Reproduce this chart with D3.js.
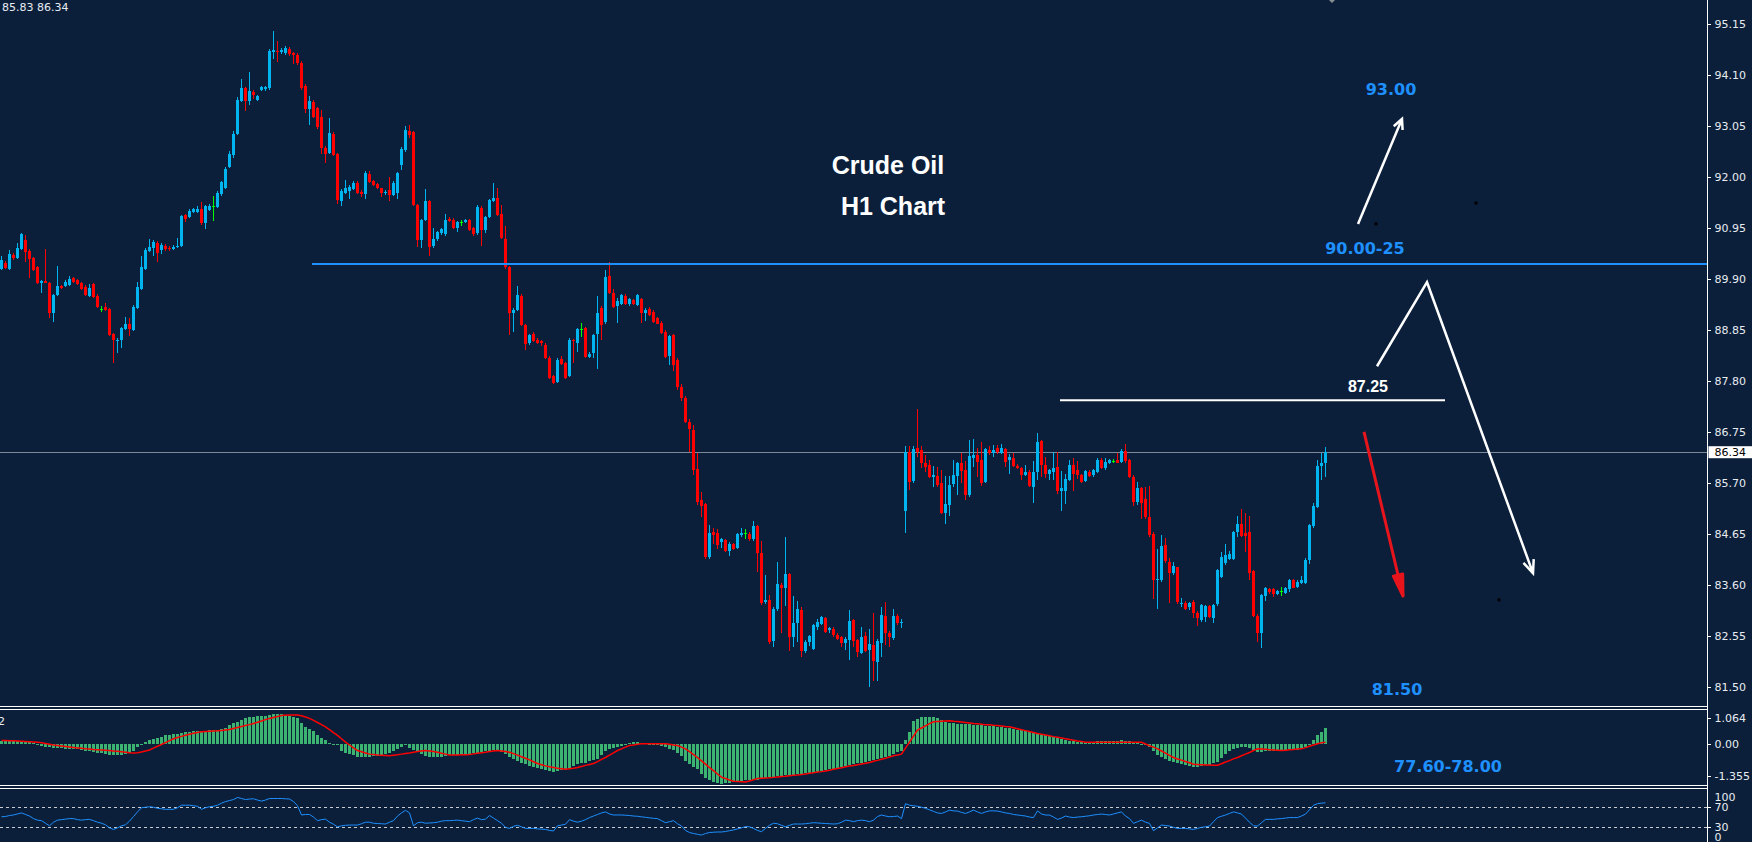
<!DOCTYPE html>
<html><head><meta charset="utf-8">
<script src="https://cdn.jsdelivr.net/npm/d3@7"></script>
<style>
html,body{margin:0;padding:0;background:#0b1f3b;overflow:hidden}
svg{display:block}
</style></head><body>
<svg id="chart" width="1752" height="842"></svg>
<script>
// ---------------- DATA (H1 candles) ----------------
const opens=[90.12,90.24,90.12,90.40,90.34,90.52,90.71,90.49,90.33,90.16,
89.83,89.86,89.83,89.21,89.58,89.76,89.76,89.78,89.92,89.88,
89.82,89.75,89.56,89.80,89.56,89.29,89.32,89.28,88.77,88.63,
88.65,88.87,88.99,88.86,89.30,89.71,90.12,90.49,90.54,90.64,
90.50,90.59,90.55,90.52,90.56,90.59,91.22,91.19,91.29,91.28,
91.34,91.05,91.33,91.40,91.38,91.65,91.77,92.22,92.46,92.89,
93.58,93.83,93.58,93.76,93.60,93.80,93.81,93.83,94.59,94.60,
94.57,94.55,94.65,94.55,94.52,94.36,93.89,93.40,93.56,93.42,
93.25,92.61,92.51,92.90,92.48,91.52,91.68,91.72,91.75,91.89,
91.70,91.66,92.06,91.92,91.86,91.77,91.67,91.74,91.64,91.68,
92.25,92.56,92.95,92.93,91.43,90.70,91.13,91.51,90.59,90.72,
90.85,90.83,91.15,91.12,90.95,91.07,91.07,91.12,90.95,90.85,
91.36,90.91,91.18,91.52,91.57,91.24,90.74,90.16,89.20,89.27,
89.56,88.96,88.58,88.77,88.66,88.63,88.55,88.29,87.91,87.79,
88.25,88.17,87.91,88.65,88.58,88.87,88.89,88.31,88.38,88.77,
89.30,89.03,89.97,89.61,89.35,89.40,89.56,89.40,89.47,89.37,
89.49,89.20,89.29,89.23,89.10,89.01,88.82,88.32,88.75,88.24,
87.69,87.45,86.97,86.80,85.99,85.36,85.27,84.19,84.70,84.67,
84.50,84.53,84.31,84.45,84.37,84.63,84.67,84.65,84.55,84.82,
84.26,83.25,83.30,82.46,83.11,83.61,83.55,83.83,82.54,82.83,
83.10,82.25,82.44,82.28,82.75,82.80,82.92,82.67,82.71,82.58,
82.53,82.42,82.47,82.88,82.47,82.21,82.55,82.27,82.37,82.03,
82.42,82.97,82.62,82.51,82.97,82.82,85.12,86.35,85.75,86.42,
86.38,86.12,86.08,85.84,85.85,85.70,85.09,85.25,85.68,85.85,
86.12,85.97,85.46,86.23,86.28,86.18,85.73,86.38,86.33,86.43,
86.33,86.40,86.17,86.23,86.06,86.01,85.87,85.94,85.63,85.94,
86.57,86.08,85.89,85.94,86.03,85.55,85.55,85.77,86.08,85.97,
85.87,85.75,85.94,85.87,85.94,86.19,86.01,86.11,86.16,86.18,
86.14,86.36,86.18,85.84,85.32,85.60,85.38,85.01,84.66,83.71,
83.71,84.43,84.09,83.85,83.97,83.21,83.24,83.15,83.26,83.04,
82.88,82.95,83.17,82.92,83.21,83.78,84.05,84.15,84.15,84.70,
84.86,84.67,84.69,83.90,82.97,82.61,83.37,83.52,83.52,83.42,
83.49,83.45,83.52,83.71,83.56,83.64,83.64,84.12,84.82,85.22,
86.05,86.11];
const highs=[90.37,90.27,90.50,90.44,90.64,90.85,90.81,90.52,90.35,90.18,
89.88,90.52,89.85,89.60,90.17,89.79,89.88,89.97,89.95,89.90,
89.85,89.78,89.81,89.83,89.59,89.35,89.42,89.31,88.80,88.70,
88.92,89.13,89.10,89.37,89.85,90.37,90.55,90.72,90.71,90.68,
90.65,90.62,90.58,90.60,90.76,91.23,91.25,91.35,91.37,91.40,
91.50,91.43,91.45,91.61,91.72,91.93,92.22,92.55,92.95,93.65,
94.02,93.86,94.16,93.80,93.70,93.88,93.88,94.65,95.01,94.81,
94.66,94.70,94.68,94.58,94.55,94.40,93.92,93.67,93.59,93.45,
93.39,92.64,93.23,92.93,92.50,91.75,91.94,91.84,91.92,91.92,
91.73,92.12,92.12,91.95,91.88,91.79,91.73,92.01,91.92,92.10,
92.62,93.06,93.08,92.96,91.45,91.15,91.75,91.54,90.95,90.90,
90.96,91.24,91.18,91.17,91.10,91.13,91.15,91.15,90.98,91.42,
91.40,91.21,91.56,91.89,91.77,91.43,91.00,90.18,89.30,89.77,
89.60,88.99,88.78,88.82,88.69,88.66,88.58,88.32,87.94,88.27,
88.32,88.20,88.70,88.68,88.90,89.01,88.92,88.40,88.77,89.56,
89.35,90.10,90.26,89.71,89.51,89.60,89.60,89.51,89.50,89.60,
89.52,89.30,89.32,89.26,89.13,89.04,88.85,88.76,88.78,88.27,
87.75,87.50,87.02,86.90,86.32,85.53,85.30,84.84,84.79,84.75,
84.58,84.56,84.49,84.48,84.68,84.77,84.75,84.70,84.92,84.85,
84.51,83.81,83.40,83.15,84.07,83.64,84.59,83.86,83.39,83.28,
83.15,82.47,82.58,82.81,82.90,82.97,82.95,82.75,82.74,82.61,
82.56,82.53,83.10,82.91,82.50,82.75,82.64,82.71,83.04,82.49,
83.16,83.26,82.65,83.12,83.00,82.90,86.47,86.47,86.47,87.23,
86.47,86.28,86.18,86.05,86.04,85.97,85.85,85.85,86.19,86.13,
86.33,86.16,86.59,86.61,86.42,86.56,86.42,86.47,86.49,86.48,
86.51,86.43,86.30,86.32,86.09,86.04,86.08,85.97,86.16,86.73,
86.60,86.25,86.00,86.35,86.35,85.96,85.89,86.19,86.23,86.16,
85.90,85.98,85.97,86.00,86.23,86.22,86.23,86.21,86.21,86.32,
86.40,86.50,86.21,85.87,85.73,85.63,85.63,85.64,84.69,84.34,
84.63,84.57,84.17,84.07,83.98,83.33,83.27,83.26,83.29,83.07,
83.22,83.20,83.20,83.22,83.94,84.29,84.45,84.31,84.72,85.03,
85.18,85.08,85.03,83.91,83.00,83.43,83.56,83.54,83.55,83.50,
83.57,83.57,83.73,83.74,83.70,83.79,84.17,84.87,85.29,86.18,
86.32,86.44];
const lows=[90.09,90.11,90.10,90.30,90.32,90.50,90.26,89.92,90.08,89.80,
89.61,89.82,89.10,89.03,89.56,89.70,89.74,89.76,89.83,89.78,
89.69,89.56,89.53,89.52,89.30,89.23,89.25,88.73,88.18,88.39,
88.48,88.85,88.73,88.84,89.28,89.69,90.10,90.46,90.37,90.26,
90.43,90.48,90.49,90.50,90.54,90.56,91.07,91.16,91.27,91.26,
91.02,90.94,91.30,91.10,91.36,91.62,91.75,92.20,92.40,92.87,
93.55,93.36,93.49,93.62,93.57,93.77,93.78,93.80,94.43,94.38,
94.54,94.52,94.50,94.33,94.32,93.80,93.33,93.08,93.22,93.00,
92.49,92.29,92.48,92.43,91.45,91.40,91.66,91.55,91.73,91.65,
91.60,91.55,91.89,91.83,91.75,91.60,91.64,91.52,91.61,91.55,
92.15,92.53,92.80,91.40,90.57,90.54,91.10,90.37,90.55,90.69,
90.82,90.80,91.07,90.93,90.88,91.00,91.05,90.89,90.80,90.82,
90.59,90.85,91.16,91.50,91.20,90.74,90.12,88.75,88.82,89.25,
88.93,88.44,88.55,88.60,88.56,88.52,88.26,87.84,87.75,87.76,
88.13,87.84,87.88,88.18,88.41,88.72,88.28,88.28,88.27,88.05,
88.65,88.98,89.60,89.30,89.01,89.38,89.38,89.35,89.37,89.35,
89.01,89.05,89.14,89.01,88.97,88.78,88.29,88.13,88.02,87.62,
87.40,86.95,86.35,85.87,85.25,85.01,84.15,84.15,84.45,84.34,
84.37,84.29,84.21,84.33,84.35,84.60,84.55,84.52,84.52,83.88,
83.20,83.22,82.40,82.34,83.08,82.61,83.17,82.25,82.34,82.44,
82.13,82.21,82.35,82.26,82.68,82.78,82.62,82.61,82.54,82.48,
82.34,82.27,82.06,82.34,82.13,82.18,82.23,81.50,81.62,81.63,
82.13,82.37,82.32,82.48,82.78,82.73,84.67,85.57,85.70,86.25,
86.01,85.94,85.80,85.62,85.62,85.06,84.87,85.03,85.63,85.46,
85.70,85.36,85.42,86.04,85.84,85.64,85.70,86.28,86.25,86.30,
86.30,86.04,85.90,86.04,86.00,85.77,85.85,85.62,85.29,85.77,
85.84,85.80,85.77,85.77,85.48,85.12,85.27,85.74,85.55,85.78,
85.70,85.72,85.82,85.84,85.92,85.99,85.98,86.09,86.11,86.11,
86.12,86.11,85.80,85.23,85.25,84.96,84.96,84.59,83.31,83.12,
83.67,84.05,83.23,83.81,83.21,83.16,83.10,83.09,82.92,82.77,
82.85,82.85,82.93,82.83,83.18,83.75,84.02,84.12,84.12,84.60,
84.59,84.29,83.71,82.94,82.44,82.30,83.28,83.43,83.35,83.40,
83.37,83.42,83.47,83.54,83.54,83.62,83.62,84.04,84.77,85.20,
85.77,85.83];
const closes=[90.30,90.14,90.42,90.34,90.54,90.83,90.47,90.31,90.10,89.83,
89.86,89.83,89.21,89.58,89.76,89.73,89.85,89.90,89.85,89.80,
89.71,89.58,89.73,89.54,89.32,89.29,89.27,88.75,88.65,88.66,
88.89,88.97,88.87,89.34,89.75,90.16,90.50,90.57,90.67,90.45,
90.61,90.52,90.52,90.57,90.59,91.20,91.15,91.31,91.34,91.35,
91.05,91.40,91.41,91.40,91.68,91.91,92.18,92.47,92.90,93.59,
93.83,93.58,93.78,93.69,93.67,93.85,93.85,94.61,94.62,94.57,
94.62,94.67,94.53,94.52,94.35,93.83,93.40,93.58,93.25,93.04,
92.60,92.49,92.92,92.46,91.53,91.72,91.77,91.81,91.89,91.68,
91.66,92.08,91.91,91.85,91.77,91.67,91.70,91.64,91.89,92.08,
92.59,92.97,92.88,91.43,90.71,91.12,91.51,90.57,90.72,90.87,
90.93,91.13,91.10,90.96,91.07,91.07,91.12,90.91,90.83,91.38,
90.91,91.18,91.53,91.57,91.22,90.76,90.16,89.20,89.27,89.58,
88.96,88.56,88.75,88.62,88.58,88.58,88.29,87.87,87.77,88.24,
88.16,87.86,88.65,88.62,88.87,88.87,88.31,88.37,88.75,89.20,
88.95,89.95,89.61,89.32,89.46,89.58,89.40,89.49,89.39,89.58,
89.20,89.27,89.16,89.03,88.99,88.80,88.31,88.73,88.13,87.69,
87.45,86.97,86.81,85.97,85.32,85.23,84.19,84.68,84.63,84.44,
84.55,84.31,84.46,84.35,84.65,84.68,84.67,84.55,84.82,84.27,
83.24,83.30,82.44,83.12,83.63,83.54,83.83,82.54,82.83,83.12,
82.25,82.44,82.56,82.78,82.85,82.94,82.64,82.73,82.58,82.50,
82.42,82.50,82.86,82.46,82.22,82.53,82.25,82.39,82.04,82.46,
82.99,82.61,82.53,82.97,82.82,82.85,86.35,85.73,86.40,86.34,
86.12,86.04,85.84,85.87,85.66,85.09,85.27,85.66,85.87,86.11,
85.96,85.46,86.26,86.28,86.14,85.71,86.40,86.32,86.38,86.35,
86.43,86.14,86.25,86.06,86.02,85.87,85.94,85.64,85.94,86.56,
86.08,85.89,85.97,86.01,85.55,85.60,85.78,86.08,85.90,85.87,
85.73,85.95,85.85,85.97,86.18,86.02,86.14,86.18,86.16,86.12,
86.37,86.16,85.84,85.32,85.61,85.30,85.01,84.63,83.71,83.73,
84.41,84.11,83.85,84.00,83.26,83.24,83.12,83.23,83.02,82.92,
83.19,83.17,82.95,83.19,83.91,84.19,84.22,84.24,84.70,84.86,
84.61,84.61,83.85,82.97,82.62,83.40,83.54,83.47,83.43,83.48,
83.49,83.54,83.71,83.55,83.67,83.71,84.12,84.84,85.23,86.05,
86.11,86.34];

// MACD histogram & signal line
const macdHist=[0.10,0.12,0.12,0.11,0.12,0.10,0.08,0.06,0.02,-0.03,
-0.08,-0.12,-0.15,-0.17,-0.18,-0.19,-0.20,-0.21,-0.22,-0.23,
-0.25,-0.28,-0.31,-0.34,-0.37,-0.40,-0.43,-0.45,-0.46,-0.46,
-0.45,-0.43,-0.38,-0.30,-0.14,0.00,0.08,0.14,0.19,0.24,
0.29,0.35,0.38,0.41,0.43,0.46,0.48,0.50,0.52,0.53,
0.54,0.55,0.56,0.57,0.58,0.60,0.64,0.78,0.85,0.92,
1.00,1.06,1.10,1.13,1.15,1.17,1.18,1.21,1.25,1.25,
1.23,1.20,1.16,1.10,1.06,0.88,0.71,0.62,0.54,0.35,
0.26,0.17,0.04,-0.02,-0.07,-0.28,-0.40,-0.44,-0.47,-0.54,
-0.55,-0.55,-0.54,-0.52,-0.50,-0.47,-0.43,-0.38,-0.28,-0.20,
-0.14,-0.07,-0.16,-0.26,-0.35,-0.43,-0.49,-0.54,-0.56,-0.57,
-0.54,-0.50,-0.48,-0.46,-0.45,-0.44,-0.44,-0.43,-0.40,-0.37,
-0.35,-0.31,-0.28,-0.27,-0.26,-0.35,-0.43,-0.54,-0.64,-0.71,
-0.78,-0.85,-0.92,-0.96,-0.99,-1.05,-1.10,-1.13,-1.16,-1.13,
-1.10,-1.05,-0.99,-0.92,-0.85,-0.82,-0.78,-0.72,-0.68,-0.64,
-0.45,-0.28,-0.22,-0.18,-0.14,-0.09,-0.04,0.04,0.06,0.07,
0.05,0.03,0.00,-0.03,-0.07,-0.10,-0.14,-0.20,-0.26,-0.38,
-0.50,-0.71,-0.85,-0.96,-1.06,-1.24,-1.42,-1.52,-1.60,-1.64,
-1.67,-1.65,-1.63,-1.60,-1.56,-1.54,-1.52,-1.51,-1.50,-1.49,
-1.45,-1.42,-1.40,-1.37,-1.35,-1.33,-1.31,-1.30,-1.28,-1.27,
-1.25,-1.23,-1.22,-1.20,-1.17,-1.13,-1.10,-1.07,-1.05,-1.02,
-0.97,-0.92,-0.89,-0.85,-0.82,-0.79,-0.75,-0.71,-0.67,-0.64,
-0.60,-0.55,-0.49,-0.43,-0.35,-0.28,0.17,0.50,0.96,1.04,
1.10,1.11,1.11,1.10,1.06,0.99,0.92,0.88,0.85,0.84,
0.83,0.82,0.81,0.80,0.79,0.78,0.76,0.75,0.73,0.71,
0.69,0.67,0.64,0.62,0.59,0.56,0.52,0.48,0.45,0.43,
0.40,0.36,0.33,0.29,0.25,0.21,0.14,0.12,0.10,0.08,
0.07,0.07,0.08,0.09,0.10,0.10,0.10,0.11,0.12,0.13,
0.14,0.13,0.10,0.06,0.02,0.00,-0.06,-0.14,-0.30,-0.45,
-0.57,-0.64,-0.71,-0.77,-0.82,-0.85,-0.88,-0.92,-0.95,-0.96,
-0.93,-0.90,-0.87,-0.82,-0.75,-0.60,-0.43,-0.28,-0.22,-0.17,
-0.14,-0.14,-0.18,-0.25,-0.35,-0.33,-0.31,-0.30,-0.29,-0.28,
-0.28,-0.27,-0.26,-0.25,-0.24,-0.21,-0.14,0.00,0.17,0.35,
0.50,0.64];
const macdSignal=[0.14,0.14,0.13,0.13,0.12,0.11,0.10,0.09,0.08,0.07,
0.04,0.01,-0.02,-0.05,-0.07,-0.09,-0.11,-0.13,-0.15,-0.17,
-0.19,-0.21,-0.22,-0.24,-0.25,-0.26,-0.27,-0.28,-0.30,-0.31,
-0.33,-0.35,-0.37,-0.38,-0.37,-0.34,-0.30,-0.26,-0.18,-0.10,
-0.03,0.05,0.13,0.21,0.26,0.31,0.36,0.40,0.44,0.47,
0.50,0.51,0.52,0.53,0.54,0.56,0.58,0.60,0.64,0.68,
0.72,0.76,0.80,0.85,0.90,0.95,1.01,1.06,1.10,1.14,
1.18,1.19,1.20,1.20,1.20,1.17,1.12,1.06,0.98,0.89,
0.80,0.71,0.59,0.47,0.35,0.21,0.07,-0.05,-0.17,-0.28,
-0.33,-0.38,-0.43,-0.45,-0.47,-0.48,-0.49,-0.50,-0.48,-0.46,
-0.43,-0.40,-0.38,-0.35,-0.32,-0.30,-0.28,-0.30,-0.32,-0.35,
-0.39,-0.43,-0.47,-0.47,-0.47,-0.46,-0.46,-0.45,-0.42,-0.39,
-0.37,-0.35,-0.32,-0.30,-0.28,-0.30,-0.32,-0.35,-0.41,-0.47,
-0.54,-0.60,-0.67,-0.75,-0.82,-0.87,-0.92,-0.96,-0.99,-1.02,
-1.04,-1.06,-1.04,-1.02,-0.99,-0.95,-0.90,-0.86,-0.82,-0.74,
-0.65,-0.57,-0.47,-0.38,-0.28,-0.21,-0.14,-0.07,-0.05,-0.02,
0.00,0.00,0.00,0.00,0.00,0.00,0.00,-0.02,-0.05,-0.07,
-0.14,-0.21,-0.33,-0.45,-0.57,-0.71,-0.85,-0.99,-1.12,-1.26,
-1.39,-1.45,-1.51,-1.56,-1.57,-1.58,-1.59,-1.55,-1.50,-1.45,
-1.44,-1.43,-1.42,-1.40,-1.38,-1.36,-1.35,-1.33,-1.31,-1.30,
-1.28,-1.26,-1.23,-1.21,-1.18,-1.16,-1.13,-1.10,-1.06,-1.03,
-1.00,-0.96,-0.93,-0.90,-0.87,-0.84,-0.81,-0.78,-0.73,-0.69,
-0.64,-0.60,-0.55,-0.50,-0.47,-0.43,-0.18,0.07,0.32,0.57,
0.66,0.75,0.84,0.92,0.93,0.94,0.95,0.96,0.94,0.93,
0.91,0.89,0.87,0.85,0.84,0.82,0.80,0.79,0.77,0.76,
0.74,0.72,0.71,0.67,0.63,0.59,0.55,0.51,0.47,0.43,
0.40,0.37,0.34,0.30,0.27,0.24,0.21,0.18,0.15,0.12,
0.10,0.07,0.07,0.07,0.07,0.07,0.06,0.06,0.06,0.06,
0.06,0.06,0.06,0.06,0.06,0.06,-0.01,-0.08,-0.14,-0.21,
-0.30,-0.39,-0.48,-0.57,-0.63,-0.68,-0.74,-0.79,-0.85,-0.86,
-0.87,-0.88,-0.88,-0.89,-0.89,-0.83,-0.76,-0.70,-0.63,-0.57,
-0.50,-0.43,-0.36,-0.28,-0.21,-0.22,-0.23,-0.25,-0.26,-0.27,
-0.28,-0.27,-0.25,-0.24,-0.22,-0.21,-0.16,-0.10,-0.05,0.00,
0.04,0.07];
// RSI line
const rsiValues=[50.6,51,53,54,56,58,55,52,47,44,
43,38,33,40,44,45,46,47,47,45,
44,45,45.5,43,40,38,35,29,26,29,
33,35,42,51,60,68,69,70,69,67,
66,65,65,65,68,73,73,73,72,71,
65,68,70,71,73,77,80,82,84,88,
86,84,85,85.5,83,81,83,86,86,86,
86,85.5,85,80,72,54,55,55,50,43,
45,46,40,36,31,33,34,34.5,34.5,34.5,
37,40,40,38,37.5,37,36.5,40,43,52,
58,63,58,33,39,40,38,38.5,39,40,
42,43,43,43.5,44,43,42,41,45,48,
45,46,53,48,43,38,30,28,32,34,
31,28,28,28,27,26.5,26,24,23,33,
34.5,36,45,42,40,42,45,49,52,55,
58,60,56,54,54,54,53.5,53,52,51.5,
50.5,49.5,48.5,47.5,47,43,39,41,43,37,
32.6,24,20,18,16.5,15,18,20,20.5,21,
21,22,23.5,25,27,29,31.5,31,28,24,
21.6,28,34,38,37,34,31,34,36.5,36.5,
36.5,37,38,39,38.5,38,37.5,37,36.5,37,
40,44,43,41,43,44,43,41,44,51,
54,52,50.6,51,52,47,76,73,72,71,
69,67,64,61,58,57,60,63.5,62,61.6,
59,57,60,63.5,60,57,60,62,62,61.6,
60,58,57,55,54,53,52,50,49,62,
56,53.9,53.9,50,45.5,48,52,50,49,50,
50.6,51.5,52.5,53.9,55,55.8,55,53.9,56,58,
60,52,47,37.7,41,44,40,37.7,23.5,29,
34.5,33.5,32.6,30,28,28,28,27,26,28,
30,31,32.6,41,49,51.5,53.9,57,60,58,
55.8,48,40,33,32.6,39,45.5,45.5,45.5,46.5,
47,48,49,49,49,52,55.8,64,73,76,
77,77.7];

const priceTicks=[95.15,94.10,93.05,92.00,90.95,89.90,88.85,87.80,86.75,85.70,84.65,83.60,82.55,81.50];
const macdTicks=[1.064,0,-1.355];
const rsiTicks=[100,70,30,0];
const rsiLevels=[70,30];
const lastLow=85.83, lastPrice=86.34;
const supplyLevel=90.215, supplyStartBar=77.75;   // blue horizontal line
const pivotLevel=87.41, pivotStartBar=264.75, pivotEndBar=361;  // white short line
const titleLines=[{text:"Crude Oil",bar:221.75,price:92.07},{text:"H1 Chart",bar:223,price:91.22}];
const blueLabels=[{text:"93.00",bar:347.5,price:93.69},{text:"90.00-25",bar:341,price:90.42},{text:"81.50",bar:349,price:81.34}];
const whiteLabels=[{text:"87.25",bar:341.75,price:87.58}];
const macdNote={text:"77.60-78.00",bar:361.75,value:-1.196};
const arrowUp=[[339.25,91.04],[350.25,93.20]];
const arrowZigzag=[[344,88.11],[356.5,89.84],[383,83.85]];
const arrowDown=[[340.75,86.76],[350.5,83.38]];
const blackDots=[[343.75,91.04],[368.75,91.47],[374.5,83.30]];
const topMarker=[332.75,95.65];

// ---------------- DRAWING ----------------
const W=1752,H=842,axisX=1707.5;
const BG="#0b1f3b",BULL="#00b4f0",BEAR="#ff0000",DOJI="#00ff00",HIST="#3cb371";
const BLUE="#1e90ff",TXT="#e8ecf0";
const svg=d3.select("#chart");
svg.append("rect").attr("width",W).attr("height",H).attr("fill",BG);

const n=opens.length;
const x=d3.scaleLinear().domain([0,n-1]).range([1,1+4*(n-1)]);
const y=d3.scaleLinear().domain([81.50,95.15]).range([687.3,24.3]);
const yM=d3.scaleLinear().domain([-1.355,1.064]).range([776.3,718.3]);
const yR=d3.scaleLinear().domain([0,100]).range([842.8,791.3]);

const defs=svg.append("defs");
defs.append("clipPath").attr("id","cMain").append("rect").attr("x",0).attr("y",0).attr("width",axisX).attr("height",706);
defs.append("clipPath").attr("id","cMacd").append("rect").attr("x",0).attr("y",710).attr("width",axisX).attr("height",75);
defs.append("clipPath").attr("id","cRsi").append("rect").attr("x",0).attr("y",789).attr("width",axisX).attr("height",53);

// main panel
const main=svg.append("g").attr("clip-path","url(#cMain)");
main.append("line").attr("x1",0).attr("x2",axisX).attr("y1",Math.round(y(lastPrice))+0.5).attr("y2",Math.round(y(lastPrice))+0.5)
  .attr("stroke","#7d8b99").attr("stroke-width",1).attr("shape-rendering","crispEdges");

const idx=d3.range(n);
const colorOf=i=>closes[i]>opens[i]?BULL:(closes[i]<opens[i]?BEAR:DOJI);
const gC=main.append("g").attr("shape-rendering","crispEdges");
gC.selectAll("line.w").data(idx).join("line").attr("class","w")
  .attr("x1",i=>x(i)+0.5).attr("x2",i=>x(i)+0.5)
  .attr("y1",i=>y(Math.max(highs[i],opens[i],closes[i])))
  .attr("y2",i=>y(Math.min(lows[i],opens[i],closes[i])))
  .attr("stroke",colorOf).attr("stroke-width",1);
gC.selectAll("rect.b").data(idx).join("rect").attr("class","b")
  .attr("x",i=>x(i)-1).attr("width",3)
  .attr("y",i=>y(Math.max(opens[i],closes[i])))
  .attr("height",i=>Math.max(1,y(Math.min(opens[i],closes[i]))-y(Math.max(opens[i],closes[i]))))
  .attr("fill",colorOf);

// horizontal levels
main.append("line").attr("x1",x(supplyStartBar)).attr("x2",axisX).attr("y1",y(supplyLevel)).attr("y2",y(supplyLevel))
  .attr("stroke",BLUE).attr("stroke-width",2);
main.append("line").attr("x1",x(pivotStartBar)).attr("x2",x(pivotEndBar)).attr("y1",y(pivotLevel)).attr("y2",y(pivotLevel))
  .attr("stroke","#ffffff").attr("stroke-width",2);

// titles and labels
titleLines.forEach(t=>main.append("text").attr("x",x(t.bar)).attr("y",y(t.price)).attr("text-anchor","middle")
  .attr("font-family","'Liberation Sans',Arial,sans-serif").attr("font-weight","bold").attr("font-size",25)
  .attr("fill","#ffffff").text(t.text));
blueLabels.forEach(t=>main.append("text").attr("x",x(t.bar)).attr("y",y(t.price)).attr("text-anchor","middle")
  .attr("font-family","'DejaVu Sans',Verdana,sans-serif").attr("font-weight","bold").attr("font-size",16)
  .attr("fill",BLUE).text(t.text));
whiteLabels.forEach(t=>main.append("text").attr("x",x(t.bar)).attr("y",y(t.price)).attr("text-anchor","middle")
  .attr("font-family","'Liberation Sans',Arial,sans-serif").attr("font-weight","bold").attr("font-size",16)
  .attr("fill","#ffffff").text(t.text));

// arrows
const pt=p=>[x(p[0]),y(p[1])];
function head(tip,from,len,ang){
  const a=Math.atan2(from[1]-tip[1],from[0]-tip[0]);
  const b1=[tip[0]+len*Math.cos(a+ang),tip[1]+len*Math.sin(a+ang)];
  const b2=[tip[0]+len*Math.cos(a-ang),tip[1]+len*Math.sin(a-ang)];
  return `M${b1[0]},${b1[1]}L${tip[0]},${tip[1]}L${b2[0]},${b2[1]}`;
}
const lineGen=d3.line();
const up=arrowUp.map(pt);
main.append("path").attr("d",lineGen(up)).attr("stroke","#fff").attr("stroke-width",2.5).attr("fill","none");
main.append("path").attr("d",head(up[1],up[0],11,0.45)).attr("stroke","#fff").attr("stroke-width",2.5).attr("fill","none");
const zz=arrowZigzag.map(pt);
main.append("path").attr("d",lineGen(zz)).attr("stroke","#fff").attr("stroke-width",2.5).attr("fill","none").attr("stroke-linejoin","miter");
main.append("path").attr("d",head(zz[2],zz[1],14,0.4)).attr("stroke","#fff").attr("stroke-width",2.5).attr("fill","none");
const dn=arrowDown.map(pt);
main.append("path").attr("d",lineGen(dn)).attr("stroke","#e8141c").attr("stroke-width",3).attr("fill","none");
main.append("path").attr("d",head(dn[1],dn[0],22,0.22)+"Z").attr("stroke","#e8141c").attr("stroke-width",3).attr("fill","#e8141c").attr("stroke-linejoin","round");

blackDots.forEach(d=>{const p=pt(d);main.append("rect").attr("x",p[0]-1.5).attr("y",p[1]-1.5).attr("width",3).attr("height",3).attr("fill","#000");});
{const p=pt(topMarker);main.append("path").attr("d",`M${p[0]-4},${p[1]-1}L${p[0]},${p[1]+3}L${p[0]+4},${p[1]-1}L${p[0]},${p[1]-5}Z`).attr("fill","#8a8f96");}

// top-left text
svg.append("text").attr("x",2).attr("y",11).attr("font-family","'DejaVu Sans',sans-serif").attr("font-size",11)
  .attr("fill",TXT).text(`${lastLow.toFixed(2)} ${lastPrice.toFixed(2)}`);

// MACD panel
const gM=svg.append("g").attr("clip-path","url(#cMacd)");
gM.append("g").attr("shape-rendering","crispEdges").selectAll("rect").data(idx).join("rect")
  .attr("x",i=>x(i)-1).attr("width",3)
  .attr("y",i=>Math.min(yM(macdHist[i]),yM(0)))
  .attr("height",i=>Math.max(1,Math.abs(yM(macdHist[i])-yM(0))))
  .attr("fill",HIST);
gM.append("path").attr("d",d3.line().x(i=>x(i)+0.5).y(i=>yM(macdSignal[i]))(idx))
  .attr("fill","none").attr("stroke","#ff0000").attr("stroke-width",1.5);
svg.append("text").attr("x",x(macdNote.bar)).attr("y",yM(macdNote.value)).attr("text-anchor","middle")
  .attr("font-family","'DejaVu Sans',Verdana,sans-serif").attr("font-weight","bold").attr("font-size",16)
  .attr("fill",BLUE).text(macdNote.text);
svg.append("text").attr("x",-2).attr("y",725).attr("font-family","'DejaVu Sans',sans-serif").attr("font-size",11)
  .attr("fill",TXT).text("2");

// RSI panel
const gR=svg.append("g").attr("clip-path","url(#cRsi)");
rsiLevels.forEach(v=>gR.append("line").attr("x1",0).attr("x2",axisX).attr("y1",Math.round(yR(v))+0.5).attr("y2",Math.round(yR(v))+0.5)
  .attr("stroke","#c8ccd0").attr("stroke-width",1).attr("stroke-dasharray","3,3").attr("shape-rendering","crispEdges"));
gR.append("path").attr("d",d3.line().x(i=>x(i)+0.5).y(i=>yR(rsiValues[i]))(idx))
  .attr("fill","none").attr("stroke",BLUE).attr("stroke-width",1);

// panel separators
[706.5,709.5,785.5,788.5].forEach(v=>svg.append("line").attr("x1",0).attr("x2",axisX).attr("y1",v).attr("y2",v)
  .attr("stroke","#ffffff").attr("stroke-width",1).attr("shape-rendering","crispEdges"));
svg.append("line").attr("x1",axisX).attr("x2",axisX).attr("y1",0).attr("y2",H).attr("stroke","#ffffff").attr("stroke-width",1).attr("shape-rendering","crispEdges");

// axes
function styleAxis(g){
  g.select(".domain").remove();
  g.selectAll(".tick line").attr("stroke","#ffffff").attr("shape-rendering","crispEdges");
  g.selectAll(".tick text").attr("fill",TXT).attr("font-family","'DejaVu Sans',sans-serif").attr("font-size",11);
}
svg.append("g").attr("transform",`translate(${axisX},0)`)
  .call(d3.axisRight(y).tickValues(priceTicks).tickSize(3).tickPadding(4).tickFormat(d3.format(".2f"))).call(styleAxis);
svg.append("g").attr("transform",`translate(${axisX},0)`)
  .call(d3.axisRight(yM).tickValues(macdTicks).tickSize(3).tickPadding(4).tickFormat(d=>d===0?"0.00":d.toFixed(3))).call(styleAxis);
const rAx=svg.append("g").attr("transform",`translate(${axisX},0)`)
  .call(d3.axisRight(yR).tickValues(rsiTicks).tickSize(3).tickPadding(4).tickFormat(d3.format("d"))).call(styleAxis);
rAx.selectAll(".tick").filter(d=>d===100).select("text").attr("dy","0.32em").attr("y",6);
rAx.selectAll(".tick").filter(d=>d===0).select("text").attr("y",-6);
rAx.selectAll(".tick").filter(d=>d===100||d===0).select("line").remove();

// last price box
const yl=y(lastPrice);
svg.append("rect").attr("x",axisX+1).attr("y",yl-6).attr("width",W-axisX-1).attr("height",12).attr("fill","#ffffff");
svg.append("text").attr("x",axisX+7).attr("y",yl).attr("dy","0.35em").attr("font-family","'DejaVu Sans',sans-serif")
  .attr("font-size",11).attr("fill","#000").text(lastPrice.toFixed(2));
</script>
</body></html>
